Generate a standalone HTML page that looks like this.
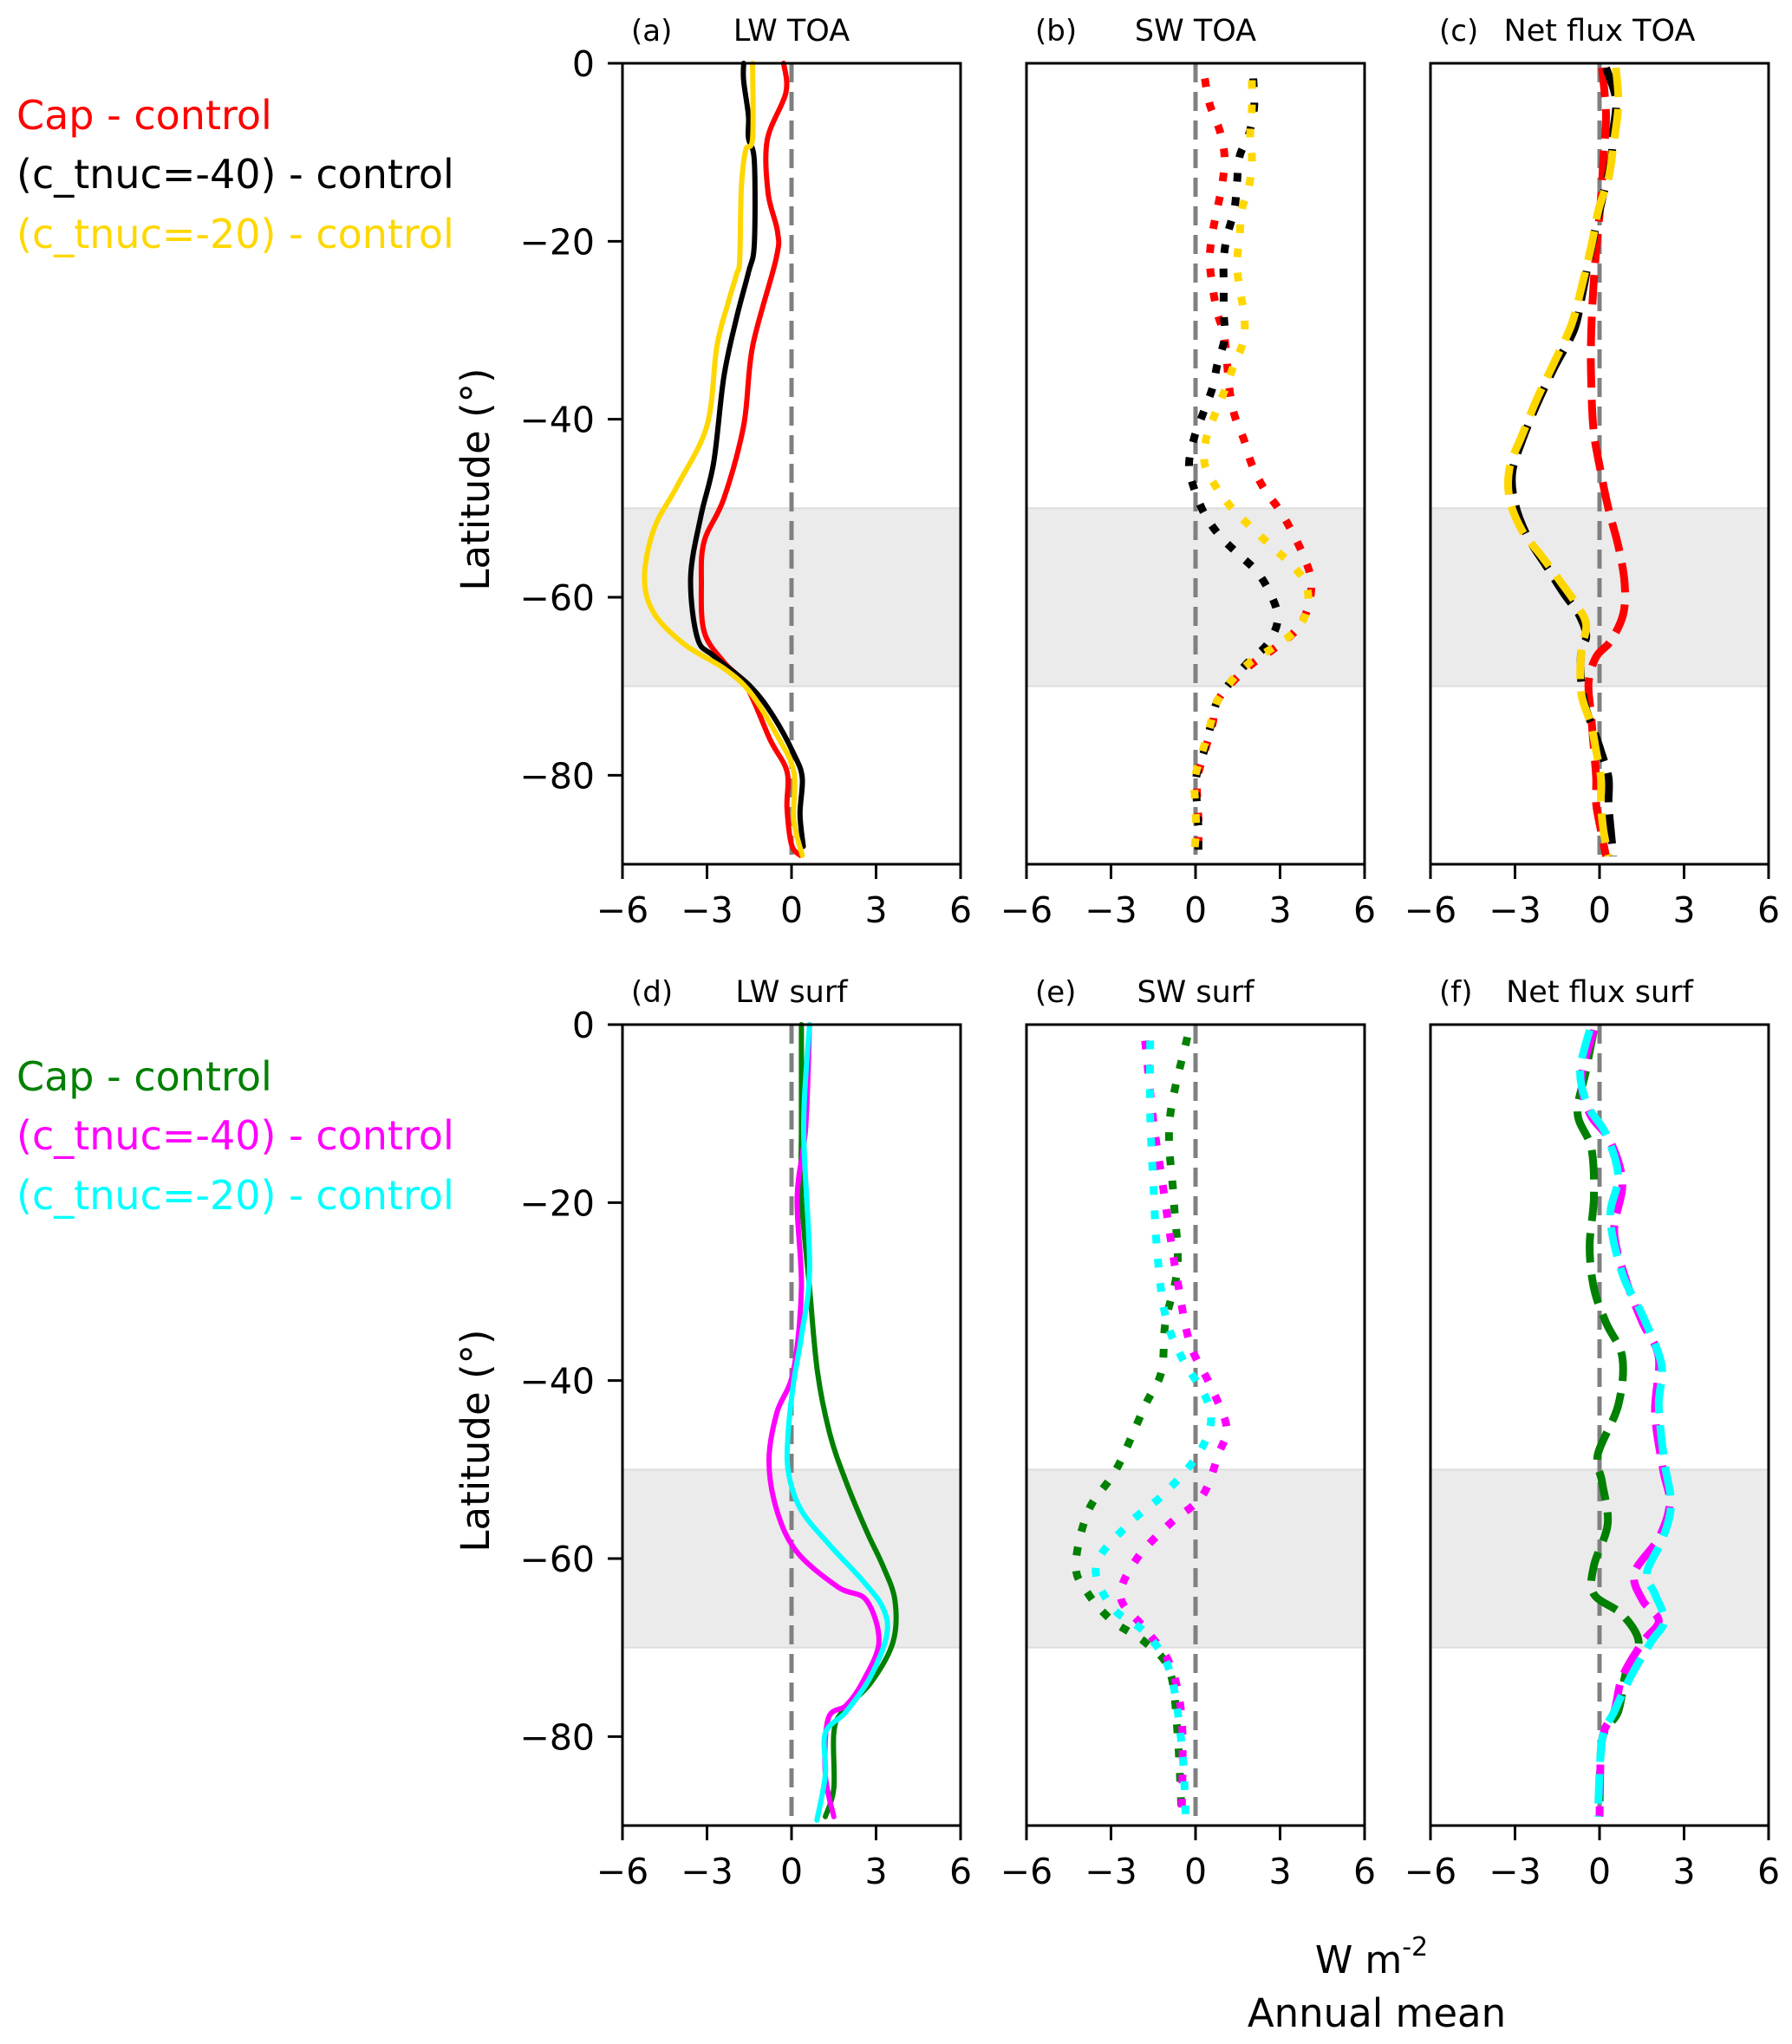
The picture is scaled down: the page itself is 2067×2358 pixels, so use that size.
<!DOCTYPE html>
<html><head><meta charset="utf-8"><style>
html,body{margin:0;padding:0;background:#fff;}
svg{display:block;font-family:"DejaVu Sans","Liberation Sans",sans-serif;}
</style></head><body>
<svg id="fig" width="2067" height="2358" viewBox="0 0 2067 2358" xmlns="http://www.w3.org/2000/svg">
<rect x="0" y="0" width="2067" height="2358" fill="#fff"/>
<g font-size="46">
<text x="19" y="149" fill="#ff0000">Cap - control</text>
<text x="19" y="217" fill="#000">(c_tnuc=-40) - control</text>
<text x="19" y="286" fill="#ffd700">(c_tnuc=-20) - control</text>
</g>
<g font-size="46">
<text x="19" y="1258" fill="#008000">Cap - control</text>
<text x="19" y="1326" fill="#ff00ff">(c_tnuc=-40) - control</text>
<text x="19" y="1395" fill="#00ffff">(c_tnuc=-20) - control</text>
</g>
<text font-size="45" text-anchor="middle" transform="translate(564,553) rotate(-90)">Latitude  (°)</text>
<text font-size="45" text-anchor="middle" transform="translate(564,1662) rotate(-90)">Latitude  (°)</text>
<text font-size="44" text-anchor="middle" x="1582" y="2276">W m<tspan font-size="30" dy="-20">-2</tspan></text>
<text font-size="45" text-anchor="middle" x="1588" y="2338">Annual mean</text>
<g id="panels"></g>
</svg>
<script>
// ---- data (latitude in degrees, values in W m^-2) ----
const xTicks = [-6, -3, 0, 3, 6];
const yTicks = [0, -20, -40, -60, -80];
const bandLats = [-50, -70];
const panelTitles = ["LW TOA", "SW TOA", "Net flux TOA", "LW surf", "SW surf", "Net flux surf"];
const panelLetters = ["(a)", "(b)", "(c)", "(d)", "(e)", "(f)"];

const aRedLat = [0,-3.3,-8.6,-14.6,-18.9,-22,-31.8,-40.7,-48.9,-53.7,-58.4,-63.9,-67.3,-70,-76,-79.6,-83.7,-87.8,-89];
const aRedVal = [-0.28,-0.2,-0.86,-0.83,-0.5,-0.55,-1.38,-1.7,-2.4,-3.1,-3.2,-3.1,-2.4,-1.6,-0.76,-0.16,-0.16,0,0.3];
const aBlkLat = [0,-2,-5.9,-8.4,-11,-20.3,-23.5,-28.6,-35.2,-44.8,-50.9,-57.8,-64.6,-66.6,-70,-73.4,-77.6,-80.3,-84.4,-88];
const aBlkVal = [-1.7,-1.7,-1.53,-1.53,-1.32,-1.32,-1.53,-1.95,-2.4,-2.76,-3.22,-3.58,-3.34,-2.76,-1.46,-0.64,0.08,0.38,0.3,0.42];
const aYelLat = [0,-8.4,-9.8,-14,-22.1,-23.7,-26.9,-31.8,-40.7,-47.5,-52.3,-57.8,-61.8,-65.3,-68,-70.7,-75.5,-79.6,-85,-89];
const aYelVal = [-1.38,-1.38,-1.63,-1.78,-1.84,-1.95,-2.25,-2.65,-3.0,-4.06,-4.88,-5.22,-4.88,-3.8,-2.4,-1.46,-0.52,0.08,0.08,0.38];

const bRedLat = [-1.7,-4.6,-7.6,-10.5,-13.5,-16.4,-19.1,-22,-25,-28,-30.9,-36.5,-39.5,-42.4,-45.1,-47.8,-50.1,-52.5,-55.4,-58.1,-61.1,-63.7,-65.8,-67.3,-69.3,-71.7,-74.3,-77.3,-80.3,-83.2,-85.9,-88.8];
const bRedVal = [0.33,0.5,0.86,1.03,0.95,0.77,0.6,0.5,0.6,0.77,1.03,1.2,1.38,1.73,2.0,2.43,2.96,3.4,3.84,4.1,4.0,3.57,2.78,2.08,1.38,0.77,0.6,0.33,0.07,0.07,0.12,0.07];
const bBlkLat = [-1.7,-4.9,-7.9,-10.5,-13.5,-16.4,-19.4,-22,-25,-28,-30.9,-33.9,-36.5,-39.5,-42.1,-45.1,-47.8,-50.7,-53.1,-55.1,-57.2,-59.9,-62.5,-65.2,-67.3,-69.3,-71.7,-74.3,-77.3,-80.3,-83.2,-85.9,-88.8];
const bBlkVal = [2.05,2.08,1.9,1.56,1.47,1.38,1.12,1.0,1.0,1.0,1.03,0.77,0.6,0.25,-0.05,-0.23,-0.05,0.33,0.86,1.5,2.2,2.7,2.92,2.57,1.87,1.3,0.77,0.55,0.3,0.02,0.05,0.1,0.1];
const bYelLat = [-1.9,-4.9,-7.9,-10.8,-13.8,-16.4,-19.7,-22.4,-25.3,-28.3,-31.2,-34,-36.8,-39.5,-42.3,-45.1,-47.8,-50.2,-52.2,-54.3,-56.3,-58.5,-61.3,-63.7,-65.6,-67.3,-69.3,-71.7,-74.6,-77.3,-80.3,-82.9,-85.9,-88.8];
const bYelVal = [2.0,2.0,1.94,2.0,1.9,1.65,1.56,1.47,1.56,1.73,1.7,1.35,1.03,0.68,0.37,0.33,0.77,1.35,2.0,2.7,3.4,3.92,3.97,3.57,2.78,1.94,1.3,0.77,0.5,0.25,-0.02,-0.02,0.02,-0.05];

const cRedLat = [-0.5,-5.8,-10.5,-15.2,-20,-24.7,-30.6,-35.3,-41.3,-46,-50.1,-54.3,-58.4,-61.9,-64.9,-66.7,-69.6,-73.2,-76.7,-80.3,-83.2,-86.2,-89.1];
const cRedVal = [0.09,0.23,0.14,0.05,-0.09,-0.21,-0.3,-0.3,-0.21,0.05,0.32,0.67,0.89,0.84,0.4,-0.12,-0.39,-0.3,-0.21,-0.12,-0.12,0.05,0.23];
const cBlkLat = [-0.5,-4,-7.6,-11.1,-14.7,-18.2,-22.3,-26.5,-30,-34.2,-38.3,-42.4,-46,-49.5,-53.1,-56.6,-59.6,-61.9,-64.3,-66.1,-69.6,-72.6,-74.9,-77.3,-80.3,-83.2,-86.2,-89.1];
const cBlkVal = [0.23,0.58,0.49,0.4,0.14,-0.12,-0.39,-0.65,-0.91,-1.61,-2.22,-2.75,-3.1,-3.0,-2.57,-1.87,-1.26,-0.74,-0.47,-0.65,-0.65,-0.47,-0.21,0.05,0.32,0.32,0.4,0.49];
const cYelLat = [-0.5,-4.6,-9.3,-12.9,-16.4,-20.6,-25.3,-29.4,-33.6,-37.7,-41.8,-45.4,-49,-52.5,-55.4,-58.4,-60.8,-63.1,-66.1,-70.8,-74.3,-77.3,-80.3,-83.2,-86.2,-89.1];
const cYelVal = [0.58,0.67,0.49,0.32,-0.03,-0.3,-0.65,-1.0,-1.61,-2.22,-2.75,-3.19,-3.19,-2.75,-2.05,-1.35,-0.82,-0.47,-0.65,-0.65,-0.3,-0.12,0.05,0.05,0.14,0.32];

const dMagLat = [0,-11.6,-19.4,-29.6,-39,-43.6,-49,-54.6,-59.3,-63.2,-64.7,-69.4,-74,-76.5,-78,-84.3,-89];
const dMagVal = [0.64,0.5,0.2,0.35,0.06,-0.52,-0.8,-0.52,0.2,1.65,2.66,3.1,2.5,1.94,1.3,1.2,1.5];
const dCyaLat = [0,-11.6,-27.2,-35,-40.5,-46.8,-50.7,-54.6,-58.5,-62.4,-65.5,-68.6,-73.3,-77.2,-79.6,-84.3,-89.4];
const dCyaVal = [0.64,0.43,0.64,0.35,0.06,-0.14,-0.09,0.35,1.36,2.5,3.24,3.38,2.8,1.94,1.2,1.2,0.9];
const dGrnLat = [0,-11.6,-19.4,-29.6,-39,-46,-51.4,-56.9,-60.8,-64.7,-69.4,-74,-77.2,-79.6,-85.8,-89];
const dGrnVal = [0.35,0.35,0.35,0.64,0.92,1.36,1.94,2.66,3.24,3.67,3.6,2.8,1.8,1.5,1.5,1.2];

const eGrnLat = [-1.4,-10.8,-19.4,-27.2,-33.5,-39,-42.8,-49.9,-54.6,-60.8,-64,-67,-69.4,-72.6,-79.6,-89];
const eGrnVal = [-0.29,-0.92,-0.78,-0.64,-1.07,-1.21,-1.79,-2.8,-3.8,-4.25,-3.8,-2.95,-1.79,-0.92,-0.64,-0.49];
const eMagLat = [-1.8,-10.8,-17,-23.3,-28.8,-35.8,-40.5,-45.2,-48.3,-53,-56.1,-60,-64.3,-67.9,-71.8,-78,-89];
const eMagVal = [-1.79,-1.5,-1.21,-0.92,-0.64,-0.2,0.52,1.1,0.81,0.23,-0.92,-2.08,-2.66,-1.79,-0.92,-0.49,-0.49];
const eCyaLat = [-1.8,-10,-17.8,-25.6,-32.7,-37.4,-42,-45.2,-49,-53,-56.1,-60.8,-65.5,-68.3,-72.6,-81,-89];
const eCyaVal = [-1.61,-1.61,-1.5,-1.36,-1.07,-0.49,0.38,0.52,-0.06,-1.21,-2.37,-3.53,-2.95,-1.79,-0.92,-0.49,-0.35];

const fGrnLat = [-0.6,-5.3,-10,-13.9,-19.4,-24.9,-29.6,-33.5,-37.4,-42.8,-48.3,-51.4,-56.1,-60.8,-64,-66.3,-69.4,-72.6,-77.2,-80.4,-89];
const fGrnVal = [-0.2,-0.49,-0.78,-0.29,-0.2,-0.35,-0.2,0.23,0.81,0.66,-0.06,0.09,0.29,-0.2,-0.2,0.81,1.39,0.95,0.66,0.09,0];
const fMagLat = [-0.6,-6,-10,-13.1,-17.8,-23.3,-28.8,-33.5,-37.4,-43.6,-49.9,-53.8,-57.7,-61.6,-64.7,-67,-69.4,-73.3,-77.2,-80.4,-89];
const fMagVal = [-0.2,-0.64,-0.35,0.38,0.81,0.52,0.95,1.53,2.1,1.97,2.25,2.49,2.1,1.24,1.53,2.1,1.53,0.81,0.52,0.09,0];
const fCyaLat = [-0.6,-5.3,-9.2,-12.3,-17,-21.7,-28,-32.7,-38.2,-42.8,-49.1,-53.8,-57.7,-61.6,-64,-67,-69.4,-73.3,-77.2,-80.4,-89];
const fCyaVal = [-0.35,-0.69,-0.4,0.23,0.66,0.38,0.81,1.53,2.2,2.1,2.3,2.54,2.25,1.68,1.97,2.3,1.82,1.1,0.52,0.09,-0.06];

// ---- layout ----
const NS = "http://www.w3.org/2000/svg";
const panelLefts = [718, 1184, 1650, 718, 1184, 1650];
const panelTops = [73, 73, 73, 1182, 1182, 1182];
const PW = 390, PH = 924;
const styles = {
  solid: {w: 6, dash: null, cap: "round"},
  dot: {w: 9, dash: "10 18", cap: "butt"},
  dash: {w: 9, dash: "34 14", cap: "butt"}
};
const panelSeries = [
  [["red", aRedLat, aRedVal, "#ff0000"], ["black", aBlkLat, aBlkVal, "#000000"], ["gold", aYelLat, aYelVal, "#ffd700"]],
  [["red", bRedLat, bRedVal, "#ff0000"], ["black", bBlkLat, bBlkVal, "#000000"], ["gold", bYelLat, bYelVal, "#ffd700"]],
  [["red", cRedLat, cRedVal, "#ff0000"], ["black", cBlkLat, cBlkVal, "#000000"], ["gold", cYelLat, cYelVal, "#ffd700"]],
  [["green", dGrnLat, dGrnVal, "#008000"], ["magenta", dMagLat, dMagVal, "#ff00ff"], ["cyan", dCyaLat, dCyaVal, "#00ffff"]],
  [["green", eGrnLat, eGrnVal, "#008000"], ["magenta", eMagLat, eMagVal, "#ff00ff"], ["cyan", eCyaLat, eCyaVal, "#00ffff"]],
  [["green", fGrnLat, fGrnVal, "#008000"], ["magenta", fMagLat, fMagVal, "#ff00ff"], ["cyan", fCyaLat, fCyaVal, "#00ffff"]]
];
const panelStyle = ["solid", "dot", "dash", "solid", "dot", "dash"];

function mk(tag, attrs, parent) {
  const e = document.createElementNS(NS, tag);
  for (const k in attrs) e.setAttribute(k, attrs[k]);
  parent.appendChild(e);
  return e;
}
function fmt(v) { return v < 0 ? "\u2212" + Math.abs(v) : String(v); }
function smoothPath(pts) {
  let d = "M" + pts[0][0].toFixed(1) + "," + pts[0][1].toFixed(1);
  for (let i = 0; i < pts.length - 1; i++) {
    const p0 = pts[Math.max(i - 1, 0)], p1 = pts[i], p2 = pts[i + 1], p3 = pts[Math.min(i + 2, pts.length - 1)];
    const c1x = p1[0] + (p2[0] - p0[0]) / 6, c1y = p1[1] + (p2[1] - p0[1]) / 6;
    const c2x = p2[0] - (p3[0] - p1[0]) / 6, c2y = p2[1] - (p3[1] - p1[1]) / 6;
    d += "C" + c1x.toFixed(1) + "," + c1y.toFixed(1) + " " + c2x.toFixed(1) + "," + c2y.toFixed(1) + " " + p2[0].toFixed(1) + "," + p2[1].toFixed(1);
  }
  return d;
}

const root = document.getElementById("panels");
for (let p = 0; p < 6; p++) {
  const L = panelLefts[p], T = panelTops[p];
  const xs = v => L + (v + 6) / 12 * PW;
  const ys = lat => T + (-lat) / 90 * PH;
  const g = mk("g", {}, root);
  
  

  const band = mk("rect", {x: L, y: ys(bandLats[0]), width: PW, height: ys(bandLats[1]) - ys(bandLats[0]), fill: "#ebebeb", stroke: "#dddddd", "stroke-width": 2}, g);
  
  

  const zl = mk("line", {x1: xs(0), x2: xs(0), y1: T, y2: T + PH, stroke: "#808080", "stroke-width": 5, "stroke-dasharray": "22 11"}, g);
  
  

  const st = styles[panelStyle[p]];
  panelSeries[p].forEach(s => {
    const lats = s[1], vals = s[2];
    const pts = lats.map((la, i) => [xs(vals[i]), ys(la)]);
    const path = mk("path", {d: smoothPath(pts), fill: "none", stroke: s[3], "stroke-width": st.w, "stroke-linejoin": "round", "stroke-linecap": st.cap}, g);
    if (st.dash) path.setAttribute("stroke-dasharray", st.dash);
    
    
  });

  const frame = mk("rect", {x: L, y: T, width: PW, height: PH, fill: "none", stroke: "#000", "stroke-width": 3}, g);
  
  

  xTicks.forEach(v => {
    const t = mk("line", {x1: xs(v), x2: xs(v), y1: T + PH, y2: T + PH + 17, stroke: "#000", "stroke-width": 3}, g);
    
    
    const lb = mk("text", {x: xs(v), y: T + PH + 67, "font-size": 41, "text-anchor": "middle"}, g);
    lb.textContent = fmt(v);
    
    
  });
  if (p % 3 === 0) {
    yTicks.forEach(v => {
      const t = mk("line", {x1: L - 17, x2: L, y1: ys(v), y2: ys(v), stroke: "#000", "stroke-width": 3}, g);
      
      
      const lb = mk("text", {x: L - 32, y: ys(v) + 15, "font-size": 41, "text-anchor": "end"}, g);
      lb.textContent = fmt(v);
      
      
    });
  }
  const letter = mk("text", {x: L + 10, y: T - 26, "font-size": 34}, g);
  letter.textContent = panelLetters[p];
  
  
  const title = mk("text", {x: L + PW / 2, y: T - 26, "font-size": 35, "text-anchor": "middle"}, g);
  title.textContent = panelTitles[p];
  
  
}
</script>
</body></html>
